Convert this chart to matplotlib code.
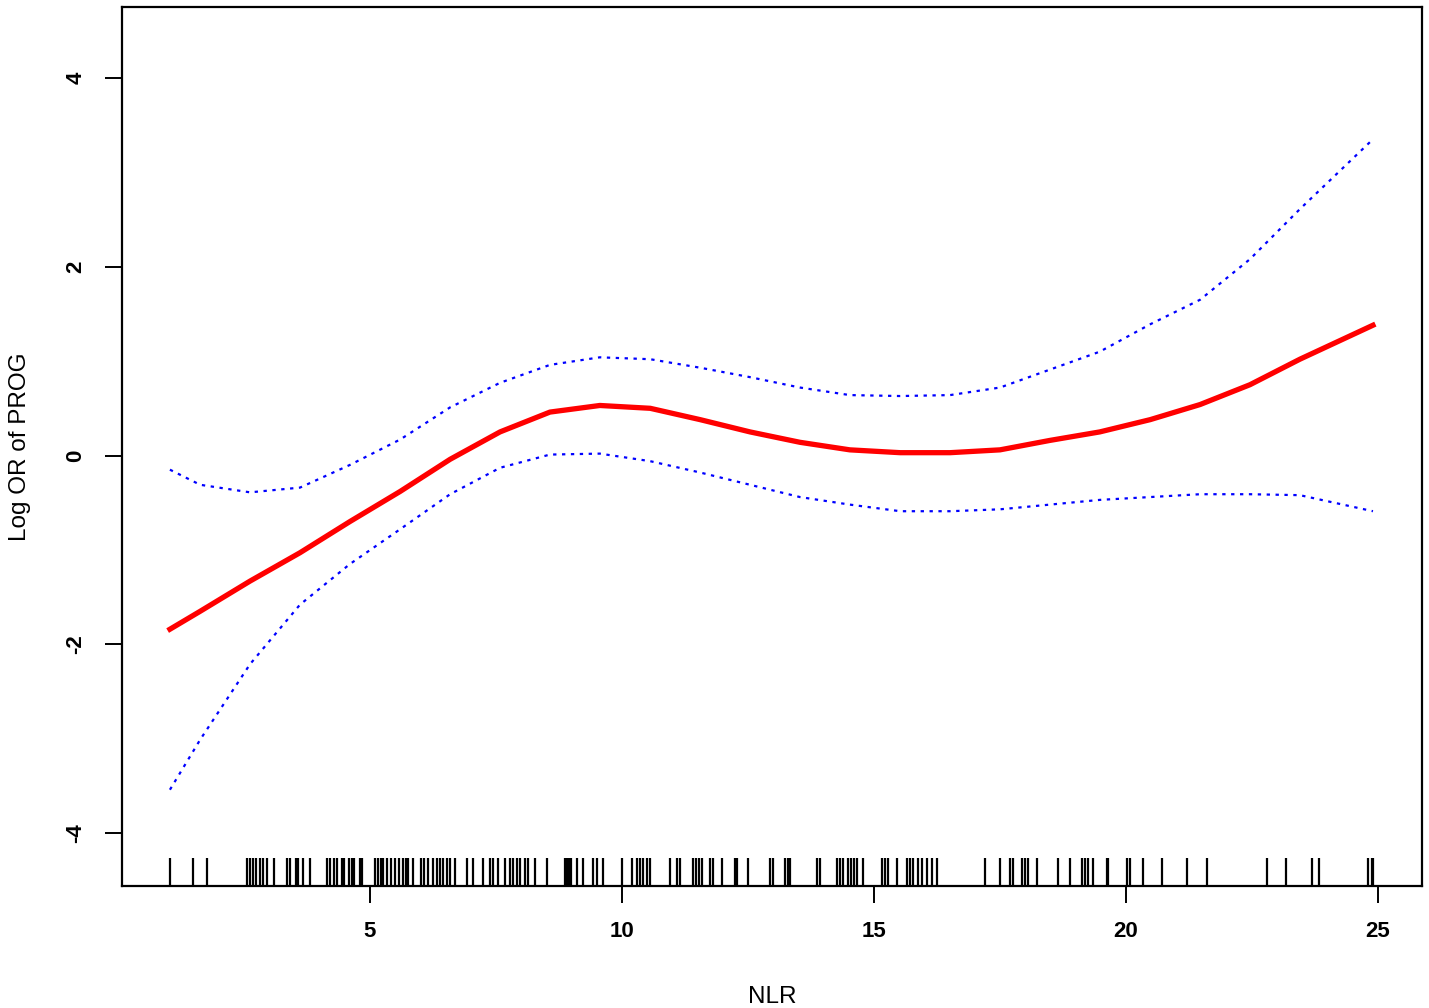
import matplotlib
matplotlib.use("Agg")
import matplotlib.pyplot as plt
import matplotlib.transforms as mtransforms

plt.rcParams["font.family"] = ["Liberation Sans", "DejaVu Sans"]

# smooth curve of log OR vs NLR, with upper/lower bounds
nlr = [1.03, 1.63, 2.62, 3.61, 4.60, 5.60, 6.59, 7.58, 8.57, 9.56, 10.56, 11.55, 12.54,
       13.53, 14.52, 15.52, 16.51, 17.50, 18.49, 19.48, 20.48, 21.47, 22.46, 23.45, 24.90]
log_or = [-1.84, -1.65, -1.33, -1.03, -0.70, -0.38, -0.04, 0.25, 0.46, 0.53, 0.50, 0.38, 0.25,
          0.14, 0.06, 0.03, 0.03, 0.06, 0.16, 0.25, 0.38, 0.54, 0.75, 1.02, 1.38]
upper = [-0.15, -0.31, -0.39, -0.34, -0.10, 0.17, 0.51, 0.77, 0.96, 1.04, 1.02, 0.93, 0.83,
         0.72, 0.64, 0.63, 0.64, 0.72, 0.91, 1.10, 1.39, 1.65, 2.08, 2.61, 3.35]
lower = [-3.54, -3.01, -2.21, -1.58, -1.15, -0.78, -0.41, -0.13, 0.01, 0.02, -0.06, -0.18, -0.31,
         -0.44, -0.52, -0.59, -0.59, -0.57, -0.52, -0.47, -0.44, -0.41, -0.41, -0.42, -0.59]

# observed NLR values (rug)
rug = [1.03, 1.48, 1.77, 2.55, 2.62, 2.68, 2.74, 2.82, 2.88, 2.95, 3.10, 3.35, 3.41, 3.53, 3.57,
       3.67, 3.81, 4.15, 4.21, 4.29, 4.35, 4.44, 4.48, 4.58, 4.64, 4.68, 4.80, 4.84, 5.10, 5.16,
       5.22, 5.26, 5.34, 5.42, 5.50, 5.58, 5.65, 5.71, 5.75, 5.85, 6.01, 6.07, 6.15, 6.25, 6.33,
       6.39, 6.45, 6.53, 6.59, 6.69, 6.92, 7.04, 7.24, 7.38, 7.44, 7.54, 7.68, 7.78, 7.84, 7.92,
       7.98, 8.08, 8.13, 8.27, 8.51, 8.87, 8.91, 8.95, 8.99, 9.11, 9.23, 9.42, 9.50, 9.62, 10.0,
       10.20, 10.30, 10.36, 10.42, 10.50, 10.56, 10.95, 11.09, 11.15, 11.41, 11.47, 11.53, 11.59,
       11.75, 11.81, 11.98, 12.24, 12.28, 12.50, 12.94, 13.00, 13.23, 13.29, 13.33, 13.87, 13.93,
       14.27, 14.33, 14.38, 14.48, 14.54, 14.60, 14.66, 14.78, 15.16, 15.22, 15.28, 15.46, 15.65,
       15.71, 15.77, 15.87, 15.95, 16.05, 16.15, 16.25, 17.20, 17.50, 17.70, 17.76, 17.94, 18.00,
       18.06, 18.23, 18.65, 18.89, 19.13, 19.19, 19.25, 19.35, 19.62, 19.64, 20.02, 20.08, 20.34,
       20.71, 21.21, 21.61, 22.80, 23.17, 23.69, 23.83, 24.80, 24.88, 24.90]

fig = plt.figure(figsize=(14.29, 10.08), dpi=100)
ax = fig.add_axes([0.0854, 0.121, 0.9096, 0.872])

ax.plot(nlr, log_or, color="red", lw=3.8)
ax.plot(nlr, upper, color="blue", lw=1.6, dashes=(1.5, 2.5))
ax.plot(nlr, lower, color="blue", lw=1.6, dashes=(1.5, 2.5))

trans = mtransforms.blended_transform_factory(ax.transData, ax.transAxes)
ax.vlines(rug, 0, 0.032, colors="black", lw=1.6, transform=trans)

ax.set_xlim(0.08, 25.87)
ax.set_ylim(-4.56, 4.75)
ax.set_xticks([5, 10, 15, 20, 25])
ax.set_yticks([-4, -2, 0, 2, 4])
ax.set_yticklabels(["-4", "-2", "0", "2", "4"], rotation=90, va="center")
ax.tick_params(axis="both", length=12.5, width=1.4, labelsize=16, pad=13)
for lab in ax.get_xticklabels() + ax.get_yticklabels():
    lab.set_fontweight("bold")
for sp in ax.spines.values():
    sp.set_linewidth(1.6)

ax.set_xlabel("NLR", fontsize=17.5, labelpad=31)
ax.set_ylabel("Log OR of PROG", fontsize=17.5, labelpad=25)

fig.savefig("out.png", dpi=100)
